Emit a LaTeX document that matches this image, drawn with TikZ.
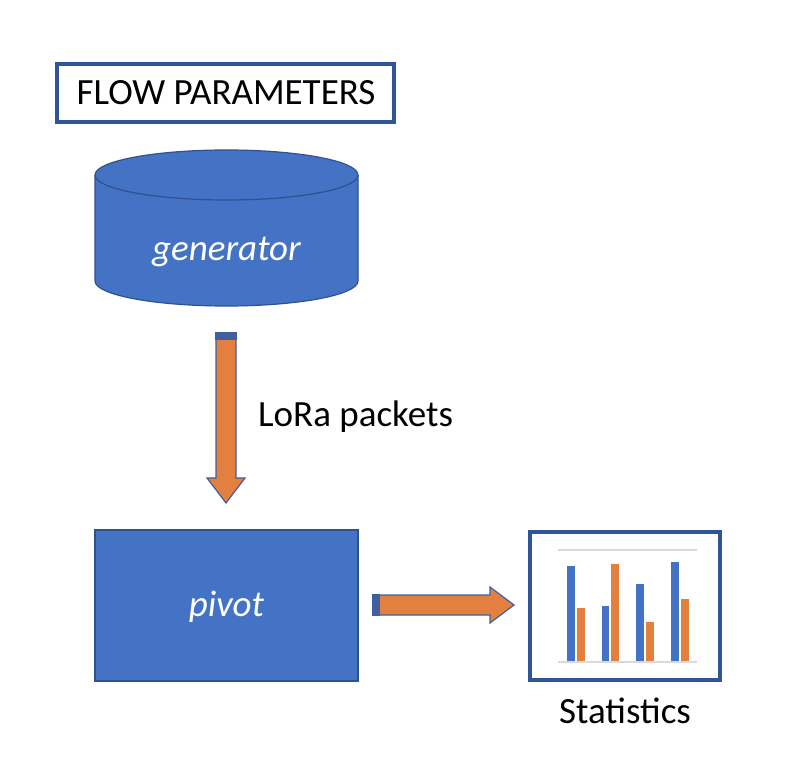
\documentclass[tikz,border=0pt]{standalone}
\usepackage{fontspec}
\setmainfont{Carlito}
\definecolor{bfill}{HTML}{4472C4}
\definecolor{bline}{HTML}{2F528F}
\definecolor{frame}{HTML}{2F5597}
\definecolor{ofill}{HTML}{E38040}
\definecolor{aline}{HTML}{3F5F9F}
\definecolor{grid}{HTML}{D9D9D9}
\tikzset{
  lbl/.style={font=\fontsize{37}{44}\selectfont, inner sep=0pt},
  wlbl/.style={lbl, text=white, font=\fontsize{37}{44}\selectfont\itshape},
  framebox/.style={draw=frame, line width=4pt, fill=white},
  bluebox/.style={draw=bline, line width=1.2pt, fill=bfill},
  blockarrow/.style={draw=aline, line width=1.2pt, fill=ofill, line join=miter},
  bbar/.style={fill=bfill},
  obar/.style={fill=ofill},
}
\begin{document}
\begin{tikzpicture}[x=1pt,y=1pt]
\useasboundingbox (0,0) rectangle (802,782);
% title box
\draw[framebox] (57,660) rectangle (394,718);
\node[lbl] (title) at (226,689) {FLOW PARAMETERS};
% cylinder
\path[bluebox] (95,607) -- (95,501) arc[start angle=180,end angle=360,x radius=131.5,y radius=25]
  -- (358,607) arc[start angle=0,end angle=180,x radius=131.5,y radius=25] -- cycle;
\draw[bline, line width=1.2pt] (95,607) arc[start angle=180,end angle=360,x radius=131.5,y radius=25];
\node[wlbl] (gen) at (226.5,530) {generator};
% down arrow
\path[blockarrow] (216,449) -- (216,304) -- (207,304) -- (226,279) -- (245,304) -- (236,304) -- (236,449) -- cycle;
\fill[aline] (215.4,449.6) rectangle (236.6,442);
\node[lbl, anchor=west] (lora) at (258,365) {LoRa packets};
% pivot
\path[bluebox] (95,101) rectangle (358,252);
\node[wlbl] (pivot) at (226.5,175) {pivot};
% right arrow
\path[blockarrow] (373,187) -- (490,187) -- (490,195) -- (514,177) -- (490,159) -- (490,167) -- (373,167) -- cycle;
\fill[aline] (372.4,187.6) rectangle (380,166.4);
% statistics box
\draw[framebox] (530,102) rectangle (720,250);
\draw[grid, line width=2pt] (558,232) -- (697,232);
\fill[bbar] (567,120) rectangle (575,216);
\fill[obar] (577,120) rectangle (585,174);
\fill[bbar] (602,120) rectangle (609,176);
\fill[obar] (611,120) rectangle (619,218);
\fill[bbar] (636,120) rectangle (644,198);
\fill[obar] (646,120) rectangle (654,160);
\fill[bbar] (671,120) rectangle (679,220);
\fill[obar] (681,120) rectangle (689,183);
\draw[grid, line width=2pt] (558,120) -- (697,120);
\node[lbl] (stats) at (625,71) {Statistics};
\end{tikzpicture}
\end{document}
